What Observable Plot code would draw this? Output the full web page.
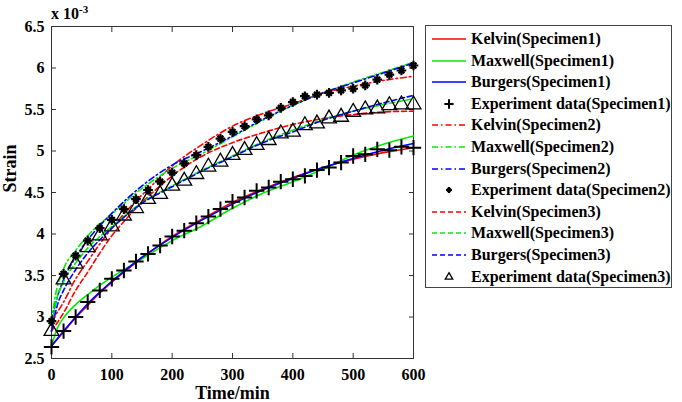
<!DOCTYPE html>
<html>
<head>
<meta charset="utf-8">
<script src="https://cdn.jsdelivr.net/npm/d3@7"></script>
<script src="https://cdn.jsdelivr.net/npm/@observablehq/plot@0.6"></script>
<style>
  html, body { margin: 0; padding: 0; background: #fff; }
  #wrap { position: relative; width: 682px; height: 402px; font-family: "Liberation Serif", "Times New Roman", serif; font-weight: bold; }
  #scale { position: absolute; left: 51px; top: 3px; font-size: 16px; }
  #scale sup { font-size: 11px; }
  #legend { position: absolute; left: 425px; top: 25px; width: 247px; height: 263px; border: 1px solid #444; background: #fff; box-sizing: border-box; }
  .row { position: absolute; left: 0; height: 20px; display: flex; align-items: center; font-size: 16px; white-space: nowrap; }
  .row svg { margin-left: 6px; margin-right: 5px; }
</style>
</head>
<body>
<div id="wrap">
  <div id="chart"></div>
  <div id="scale">x 10<sup>-3</sup></div>
  <div id="legend"></div>
</div>
<script>
// Creep strain (x 10^-3) against time for three specimens, with fitted rheological models.
const xTicks = [0, 100, 200, 300, 400, 500, 600];
const yTicks = [2.5, 3, 3.5, 4, 4.5, 5, 5.5, 6, 6.5];

// Experiment data, sampled every 20 min
const expTime = [0, 20, 40, 60, 80, 100, 120, 140, 160, 180, 200, 220, 240, 260, 280, 300,
                 320, 340, 360, 380, 400, 420, 440, 460, 480, 500, 520, 540, 560, 580, 600];
const exp1 = [2.64, 2.83, 3.00, 3.18, 3.32, 3.46, 3.56, 3.67, 3.76, 3.86, 3.97, 4.04, 4.13, 4.21, 4.30, 4.39,
              4.44, 4.52, 4.56, 4.63, 4.66, 4.70, 4.77, 4.80, 4.86, 4.94, 4.96, 5.02, 5.01, 5.05, 5.04];
const exp2 = [2.95, 3.52, 3.74, 3.92, 4.07, 4.17, 4.30, 4.42, 4.53, 4.63, 4.74, 4.85, 4.95, 5.05, 5.15, 5.23,
              5.30, 5.38, 5.43, 5.52, 5.59, 5.66, 5.68, 5.70, 5.73, 5.75, 5.79, 5.86, 5.92, 5.97, 6.03];
const exp3 = [2.83, 3.45, 3.64, 3.84, 3.98, 4.09, 4.22, 4.31, 4.42, 4.48, 4.58, 4.64, 4.72, 4.81, 4.87, 4.95,
              5.01, 5.07, 5.13, 5.21, 5.23, 5.31, 5.33, 5.39, 5.41, 5.47, 5.50, 5.51, 5.55, 5.56, 5.56];

// Model curves
const kelvin1Time  = [0, 20, 40, 60, 80, 100, 150, 200, 250, 300, 350, 400, 450, 500, 550, 600];
const kelvin1      = [2.65, 2.82, 2.99, 3.14, 3.29, 3.42, 3.71, 3.97, 4.18, 4.38, 4.54, 4.68, 4.80, 4.90, 4.98, 5.04];
const maxwell1Time = [0, 10, 20, 40, 60, 80, 100, 150, 200, 250, 300, 350, 400, 450, 500, 550, 600];
const maxwell1     = [2.65, 2.87, 2.99, 3.15, 3.27, 3.38, 3.48, 3.70, 3.92, 4.10, 4.31, 4.49, 4.63, 4.78, 4.95, 5.08, 5.18];
const burgers1Time = [0, 20, 40, 60, 80, 100, 150, 200, 250, 300, 350, 400, 450, 500, 550, 600];
const burgers1     = [2.65, 2.83, 3.00, 3.16, 3.30, 3.43, 3.72, 3.96, 4.17, 4.36, 4.53, 4.67, 4.80, 4.91, 5.01, 5.09];

const kelvin2Time  = [0, 20, 40, 60, 80, 100, 120, 140, 160, 200, 250, 300, 350, 400, 450, 500, 550, 600];
const kelvin2      = [2.95, 3.18, 3.46, 3.67, 3.88, 4.07, 4.24, 4.40, 4.54, 4.82, 5.08, 5.30, 5.45, 5.57, 5.70, 5.78, 5.85, 5.90];
const maxwell2Time = [0, 5, 20, 40, 60, 80, 100, 150, 200, 250, 300, 350, 400, 450, 500, 550, 600];
const maxwell2     = [2.95, 3.20, 3.58, 3.80, 3.98, 4.12, 4.24, 4.55, 4.79, 4.97, 5.17, 5.37, 5.55, 5.70, 5.83, 5.95, 6.07];
const burgers2Time = [0, 10, 20, 40, 60, 80, 100, 150, 200, 250, 300, 350, 400, 450, 500, 550, 600];
const burgers2     = [2.95, 3.25, 3.45, 3.72, 3.93, 4.10, 4.25, 4.58, 4.83, 5.00, 5.18, 5.38, 5.55, 5.70, 5.82, 5.94, 6.06];

const kelvin3Time  = [0, 20, 40, 60, 80, 100, 120, 140, 160, 180, 200, 250, 300, 350, 400, 450, 500, 550, 600];
const kelvin3      = [2.83, 3.05, 3.32, 3.54, 3.77, 3.98, 4.15, 4.31, 4.45, 4.58, 4.70, 4.94, 5.10, 5.22, 5.32, 5.39, 5.44, 5.47, 5.48];
const maxwell3Time = [0, 5, 20, 40, 60, 80, 100, 150, 200, 250, 300, 350, 400, 450, 500, 550, 600];
const maxwell3     = [2.83, 3.10, 3.42, 3.65, 3.83, 3.97, 4.09, 4.38, 4.58, 4.77, 4.94, 5.11, 5.25, 5.38, 5.48, 5.56, 5.63];
const burgers3Time = [0, 10, 20, 40, 60, 80, 100, 150, 200, 250, 300, 350, 400, 450, 500, 550, 600];
const burgers3     = [2.83, 3.15, 3.32, 3.57, 3.77, 3.93, 4.07, 4.37, 4.57, 4.76, 4.93, 5.10, 5.23, 5.37, 5.48, 5.58, 5.67];

const legendLabels = [
  "Kelvin(Specimen1)", "Maxwell(Specimen1)", "Burgers(Specimen1)", "Experiment data(Specimen1)",
  "Kelvin(Specimen2)", "Maxwell(Specimen2)", "Burgers(Specimen2)", "Experiment data(Specimen2)",
  "Kelvin(Specimen3)", "Maxwell(Specimen3)", "Burgers(Specimen3)", "Experiment data(Specimen3)"
];

const RED = "#ff0000", GREEN = "#00ee00", BLUE = "#0000ff";
const SOLID = null, DASHDOT = "6,3,1.5,3", DASHED = "5,3";

// Eight-armed asterisk used for the second specimen's measurements
const star8 = {
  draw(context, size) {
    const r = Math.sqrt(size / Math.PI) * 1.1;
    const d = r * 0.6;
    context.moveTo(-r, 0); context.lineTo(r, 0);
    context.moveTo(0, -r); context.lineTo(0, r);
    context.moveTo(-d, -d); context.lineTo(d, d);
    context.moveTo(-d, d); context.lineTo(d, -d);
  }
};

const zip = (ts, vs) => ts.map((t, i) => ({t, v: vs[i]}));

const curves = [
  {data: zip(kelvin1Time, kelvin1), color: RED, dash: SOLID},
  {data: zip(maxwell1Time, maxwell1), color: GREEN, dash: SOLID},
  {data: zip(burgers1Time, burgers1), color: BLUE, dash: SOLID},
  {data: zip(kelvin2Time, kelvin2), color: RED, dash: DASHDOT},
  {data: zip(maxwell2Time, maxwell2), color: GREEN, dash: DASHDOT},
  {data: zip(burgers2Time, burgers2), color: BLUE, dash: DASHDOT},
  {data: zip(kelvin3Time, kelvin3), color: RED, dash: DASHED},
  {data: zip(maxwell3Time, maxwell3), color: GREEN, dash: DASHED},
  {data: zip(burgers3Time, burgers3), color: BLUE, dash: DASHED}
];

const lineMarks = curves.map(c => Plot.line(c.data, {
  x: "t", y: "v", stroke: c.color, strokeWidth: 1.6,
  strokeDasharray: c.dash, curve: "monotone-x"
}));

const pts1 = zip(expTime, exp1), pts2 = zip(expTime, exp2), pts3 = zip(expTime, exp3);

const fontStyle = {fontFamily: "'Liberation Serif', 'Times New Roman', serif", fontWeight: "bold", fontSize: "16px"};

const chart = Plot.plot({
  width: 682,
  height: 402,
  marginLeft: 51,
  marginRight: 269,
  marginTop: 26,
  marginBottom: 44,
  style: {...fontStyle, background: "#fff", color: "#000", overflow: "visible"},
  x: {domain: [0, 600], ticks: xTicks},
  y: {domain: [2.5, 6.5], ticks: yTicks},
  marks: [
    Plot.frame({stroke: "#333", strokeWidth: 1}),
    Plot.axisX(xTicks, {anchor: "bottom", tickSize: -5, tickPadding: 15, label: null, stroke: "#333", fontSize: 16}),
    Plot.axisX(xTicks, {anchor: "top", tickSize: -5, tickFormat: () => "", label: null, stroke: "#333"}),
    Plot.axisY(yTicks, {anchor: "left", tickSize: -5, tickPadding: 12, label: null, stroke: "#333", fontSize: 16, tickFormat: d => String(d)}),
    Plot.axisY(yTicks, {anchor: "right", tickSize: -5, tickFormat: () => "", label: null, stroke: "#333"}),
    ...lineMarks,
    Plot.dot(pts1, {x: "t", y: "v", symbol: "plus", r: 5, stroke: "#000", strokeWidth: 2}),
    Plot.dot(pts2, {x: "t", y: "v", symbol: star8, r: 4.4, stroke: "#000", strokeWidth: 2.2}),
    Plot.dot(pts3, {x: "t", y: "v", symbol: "triangle", r: 5.5, stroke: "#000", strokeWidth: 1.3}),
    Plot.text(["Time/min"], {frameAnchor: "bottom", lineAnchor: "middle", dy: 35, fontSize: 18, fontWeight: "bold"}),
    Plot.text(["Strain"], {frameAnchor: "left", dx: -41, rotate: -90, fontSize: 18, fontWeight: "bold"})
  ]
});
document.getElementById("chart").appendChild(chart);

// Legend: one row per series with a line sample or a marker
const legendStyles = [
  {color: RED, dash: SOLID}, {color: GREEN, dash: SOLID}, {color: BLUE, dash: SOLID}, {marker: "plus"},
  {color: RED, dash: DASHDOT}, {color: GREEN, dash: DASHDOT}, {color: BLUE, dash: DASHDOT}, {marker: "star8"},
  {color: RED, dash: DASHED}, {color: GREEN, dash: DASHED}, {color: BLUE, dash: DASHED}, {marker: "triangle"}
];
const legend = d3.select("#legend");
legendLabels.forEach((label, i) => {
  const row = legend.append("div").attr("class", "row").style("top", (3 + i * 21.6) + "px");
  const svg = row.append("svg").attr("width", 34).attr("height", 20);
  const s = legendStyles[i];
  if (s.marker) {
    const sym = {plus: d3.symbolPlus, star8: star8, triangle: d3.symbolTriangle2}[s.marker];
    const size = {plus: 30, star8: 22, triangle: 40}[s.marker];
    svg.append("path")
      .attr("transform", "translate(17,10)")
      .attr("d", d3.symbol(sym, size)())
      .attr("fill", "none").attr("stroke", "#000")
      .attr("stroke-width", s.marker === "star8" ? 2.2 : s.marker === "plus" ? 2 : 1.3);
  } else {
    svg.append("line").attr("x1", 0).attr("x2", 34).attr("y1", 10).attr("y2", 10)
      .attr("stroke", s.color).attr("stroke-width", 1.6)
      .attr("stroke-dasharray", s.dash);
  }
  row.append("span").text(label);
});
</script>
</body>
</html>
